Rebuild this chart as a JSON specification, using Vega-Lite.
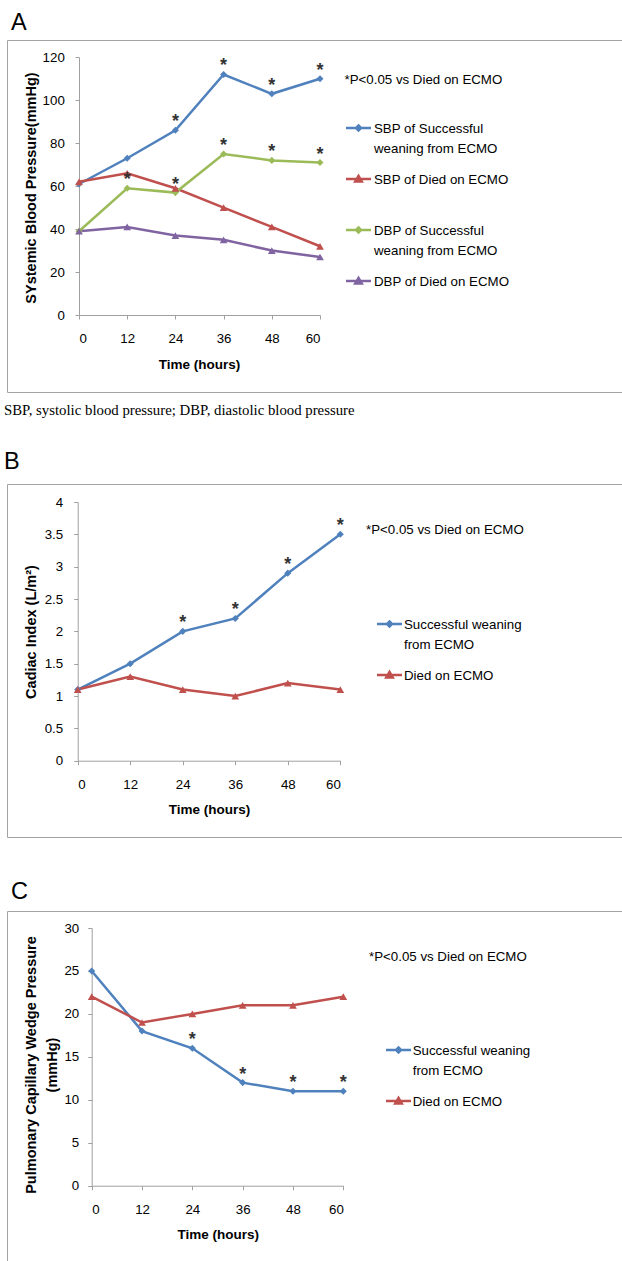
{
  "$schema": "https://vega.github.io/schema/vega-lite/v6.json",
  "background": "white",
  "padding": {"left": 3, "top": 10, "right": 0, "bottom": 0},
  "spacing": 9,
  "bounds": "full",
  "config": {
    "view": {"stroke": "#a3a3a3", "strokeWidth": 1},
    "font": "Liberation Sans",
    "axis": {
      "grid": false,
      "domainColor": "#a0a0a0",
      "tickColor": "#a0a0a0",
      "tickSize": 4,
      "labelFont": "Liberation Sans",
      "labelFontSize": 13.3,
      "labelColor": "#000",
      "titleFont": "Liberation Sans",
      "titleFontWeight": "bold",
      "titleColor": "#000"
    },
    "legend": {
      "orient": "none",
      "padding": 0,
      "titleFont": "Liberation Sans",
      "titleFontSize": 13.3,
      "titleFontWeight": "normal",
      "titleColor": "#000",
      "labelFont": "Liberation Sans",
      "labelFontSize": 13.3,
      "labelColor": "#000",
      "labelBaseline": "alphabetic",
      "labelLimit": 400,
      "symbolSize": 625,
      "symbolStrokeWidth": 2.5,
      "rowPadding": 9
    },
    "title": {"anchor": "start", "font": "Liberation Sans", "fontWeight": "normal", "color": "#000"}
  },
  "datasets": {
    "A": [
      {"t": 0, "series": "SBP of Successful weaning from ECMO", "value": 61, "sig": false},
      {"t": 12, "series": "SBP of Successful weaning from ECMO", "value": 73, "sig": false},
      {"t": 24, "series": "SBP of Successful weaning from ECMO", "value": 86, "sig": true},
      {"t": 36, "series": "SBP of Successful weaning from ECMO", "value": 112, "sig": true},
      {"t": 48, "series": "SBP of Successful weaning from ECMO", "value": 103, "sig": true},
      {"t": 60, "series": "SBP of Successful weaning from ECMO", "value": 110, "sig": true},
      {"t": 0, "series": "SBP of Died on ECMO", "value": 62, "sig": false},
      {"t": 12, "series": "SBP of Died on ECMO", "value": 66, "sig": false},
      {"t": 24, "series": "SBP of Died on ECMO", "value": 59, "sig": false},
      {"t": 36, "series": "SBP of Died on ECMO", "value": 50, "sig": false},
      {"t": 48, "series": "SBP of Died on ECMO", "value": 41, "sig": false},
      {"t": 60, "series": "SBP of Died on ECMO", "value": 32, "sig": false},
      {"t": 0, "series": "DBP of Successful weaning from ECMO", "value": 39, "sig": false},
      {"t": 12, "series": "DBP of Successful weaning from ECMO", "value": 59, "sig": true},
      {"t": 24, "series": "DBP of Successful weaning from ECMO", "value": 57, "sig": true},
      {"t": 36, "series": "DBP of Successful weaning from ECMO", "value": 75, "sig": true},
      {"t": 48, "series": "DBP of Successful weaning from ECMO", "value": 72, "sig": true},
      {"t": 60, "series": "DBP of Successful weaning from ECMO", "value": 71, "sig": true},
      {"t": 0, "series": "DBP of Died on ECMO", "value": 39, "sig": false},
      {"t": 12, "series": "DBP of Died on ECMO", "value": 41, "sig": false},
      {"t": 24, "series": "DBP of Died on ECMO", "value": 37, "sig": false},
      {"t": 36, "series": "DBP of Died on ECMO", "value": 35, "sig": false},
      {"t": 48, "series": "DBP of Died on ECMO", "value": 30, "sig": false},
      {"t": 60, "series": "DBP of Died on ECMO", "value": 27, "sig": false}
    ],
    "B": [
      {"t": 0, "series": "Successful weaning from ECMO", "value": 1.1, "sig": false},
      {"t": 12, "series": "Successful weaning from ECMO", "value": 1.5, "sig": false},
      {"t": 24, "series": "Successful weaning from ECMO", "value": 2.0, "sig": true},
      {"t": 36, "series": "Successful weaning from ECMO", "value": 2.2, "sig": true},
      {"t": 48, "series": "Successful weaning from ECMO", "value": 2.9, "sig": true},
      {"t": 60, "series": "Successful weaning from ECMO", "value": 3.5, "sig": true},
      {"t": 0, "series": "Died on ECMO", "value": 1.1, "sig": false},
      {"t": 12, "series": "Died on ECMO", "value": 1.3, "sig": false},
      {"t": 24, "series": "Died on ECMO", "value": 1.1, "sig": false},
      {"t": 36, "series": "Died on ECMO", "value": 1.0, "sig": false},
      {"t": 48, "series": "Died on ECMO", "value": 1.2, "sig": false},
      {"t": 60, "series": "Died on ECMO", "value": 1.1, "sig": false}
    ],
    "C": [
      {"t": 0, "series": "Successful weaning from ECMO", "value": 25, "sig": false},
      {"t": 12, "series": "Successful weaning from ECMO", "value": 18, "sig": false},
      {"t": 24, "series": "Successful weaning from ECMO", "value": 16, "sig": true},
      {"t": 36, "series": "Successful weaning from ECMO", "value": 12, "sig": true},
      {"t": 48, "series": "Successful weaning from ECMO", "value": 11, "sig": true},
      {"t": 60, "series": "Successful weaning from ECMO", "value": 11, "sig": true},
      {"t": 0, "series": "Died on ECMO", "value": 22, "sig": false},
      {"t": 12, "series": "Died on ECMO", "value": 19, "sig": false},
      {"t": 24, "series": "Died on ECMO", "value": 20, "sig": false},
      {"t": 36, "series": "Died on ECMO", "value": 21, "sig": false},
      {"t": 48, "series": "Died on ECMO", "value": 21, "sig": false},
      {"t": 60, "series": "Died on ECMO", "value": 22, "sig": false}
    ]
  },
  "resolve": {"scale": {"x": "independent", "y": "independent", "color": "independent"}, "legend": {"color": "independent"}},
  "vconcat": [
    {
      "width": 617,
      "height": 352,
      "title": {"text": "A", "fontSize": 23.5, "dx": 4, "offset": 6},
      "data": {"name": "A"},
      "encoding": {
        "x": {"field": "t", "type": "quantitative",
          "scale": {"domain": [0, 60], "range": [72, 313], "nice": false, "zero": false},
          "axis": {"values": [0, 12, 24, 36, 48, 60], "offset": -77, "labelPadding": 12.7,
            "title": "Time (hours)", "titleFontSize": 13.5, "titleX": 192, "titleY": 49, "titleBaseline": "middle"}},
        "y": {"field": "value", "type": "quantitative",
          "scale": {"domain": [0, 120], "range": [275, 17.3], "nice": false, "zero": false},
          "axis": {"values": [0, 20, 40, 60, 80, 100, 120], "offset": -72, "labelPadding": 10.7,
            "title": "SYstemic Blood Pressure(mmHg)", "titleFontSize": 14.5, "titleX": -48, "titleY": 147.5, "titleBaseline": "middle"}},
        "color": {"field": "series", "type": "nominal",
          "scale": {"domain": ["SBP of Successful weaning from ECMO", "SBP of Died on ECMO", "DBP of Successful weaning from ECMO", "DBP of Died on ECMO"],
            "range": ["#4F81BD", "#C0504D", "#9BBB59", "#8064A2"]},
          "legend": {
            "legendX": 337.5, "legendY": 33.4,
            "title": "*P<0.05 vs Died on ECMO", "titlePadding": 27.3, "labelOffset": 1.5,
            "labelExpr": "datum.label == 'SBP of Successful weaning from ECMO' ? ['SBP of Successful', 'weaning from ECMO'] : datum.label == 'DBP of Successful weaning from ECMO' ? ['DBP of Successful', 'weaning from ECMO'] : [datum.label, '']",
            "encode": {
              "symbols": {"update": {
                "shape": {"signal": "indexof(datum.value, 'Died') >= 0 ? 'M-1,0L1,0M0,-0.24L0.26,0.2L-0.26,0.2Z' : 'M-1,0L1,0M0,-0.2L0.2,0L0,0.2L-0.2,0Z'"},
                "fill": {"signal": "datum.value == 'SBP of Died on ECMO' ? '#C0504D' : datum.value == 'DBP of Successful weaning from ECMO' ? '#9BBB59' : datum.value == 'DBP of Died on ECMO' ? '#8064A2' : '#4F81BD'"},
                "stroke": {"signal": "datum.value == 'SBP of Died on ECMO' ? '#C0504D' : datum.value == 'DBP of Successful weaning from ECMO' ? '#9BBB59' : datum.value == 'DBP of Died on ECMO' ? '#8064A2' : '#4F81BD'"},
                "strokeWidth": {"value": 2.5}
              }},
              "labels": {"update": {"dy": {"value": 4.5}, "lineHeight": {"value": 20.7}}}
            }
          }}
      },
      "layer": [
        {"mark": {"type": "line", "strokeWidth": 2.5}},
        {"transform": [{"filter": "indexof(datum.series, 'Died') < 0"}],
          "mark": {"type": "point", "filled": true, "opacity": 1, "size": 50, "shape": "diamond"}},
        {"transform": [{"filter": "indexof(datum.series, 'Died') >= 0"}],
          "mark": {"type": "point", "filled": true, "opacity": 1, "size": 60, "shape": "triangle-up"}},
        {"transform": [{"filter": "datum.sig"}],
          "mark": {"type": "text", "text": "*", "fontSize": 18, "fontWeight": "bold", "baseline": "alphabetic", "dy": -3},
          "encoding": {"color": {"value": "#333333"}}}
      ]
    },
    {
      "width": 617,
      "height": 353,
      "title": {"text": "SBP, systolic blood pressure; DBP, diastolic blood pressure", "font": "Liberation Serif", "fontSize": 14.8, "dx": -3,
        "subtitle": "\u00a0B", "subtitleFont": "Liberation Sans", "subtitleFontSize": 23.5, "subtitleColor": "#000", "subtitlePadding": 32, "offset": 11},
      "data": {"name": "B"},
      "encoding": {
        "x": {"field": "t", "type": "quantitative",
          "scale": {"domain": [0, 60], "range": [70.7, 333.3], "nice": false, "zero": false},
          "axis": {"values": [0, 12, 24, 36, 48, 60], "offset": -76.3, "labelPadding": 12.7,
            "title": "Time (hours)", "titleFontSize": 13.5, "titleX": 202, "titleY": 48.3, "titleBaseline": "middle"}},
        "y": {"field": "value", "type": "quantitative",
          "scale": {"domain": [0, 4], "range": [276.7, 18], "nice": false, "zero": false},
          "axis": {"values": [0, 0.5, 1, 1.5, 2, 2.5, 3, 3.5, 4], "format": "~g", "offset": -70.7, "labelPadding": 11,
            "title": "Cadiac  Index (L/m²)", "titleFontSize": 14.5, "titleX": -45.7, "titleY": 147.5, "titleBaseline": "middle"}},
        "color": {"field": "series", "type": "nominal",
          "scale": {"domain": ["Successful weaning from ECMO", "Died on ECMO"], "range": ["#4F81BD", "#C0504D"]},
          "legend": {
            "legendX": 359.5, "legendY": 39,
            "title": "*P<0.05 vs Died on ECMO", "titlePadding": 73.7, "labelOffset": 0.5,
            "labelExpr": "datum.label == 'Successful weaning from ECMO' ? ['\u00a0Successful weaning', 'from ECMO'] : [datum.label, '']",
            "encode": {
              "title": {"update": {"dx": {"value": -9.5}}},
              "symbols": {"update": {
                "shape": {"signal": "indexof(datum.value, 'Died') >= 0 ? 'M-1,0L1,0M0,-0.24L0.26,0.2L-0.26,0.2Z' : 'M-1,0L1,0M0,-0.2L0.2,0L0,0.2L-0.2,0Z'"},
                "fill": {"signal": "indexof(datum.value, 'Died') >= 0 ? '#C0504D' : '#4F81BD'"},
                "stroke": {"signal": "indexof(datum.value, 'Died') >= 0 ? '#C0504D' : '#4F81BD'"},
                "strokeWidth": {"value": 2.5}
              }},
              "labels": {"update": {"dy": {"value": 4.5}, "lineHeight": {"value": 20.7}}}
            }
          }}
      },
      "layer": [
        {"mark": {"type": "line", "strokeWidth": 2.5}},
        {"transform": [{"filter": "indexof(datum.series, 'Died') < 0"}],
          "mark": {"type": "point", "filled": true, "opacity": 1, "size": 50, "shape": "diamond"}},
        {"transform": [{"filter": "indexof(datum.series, 'Died') >= 0"}],
          "mark": {"type": "point", "filled": true, "opacity": 1, "size": 60, "shape": "triangle-up"}},
        {"transform": [{"filter": "datum.sig"}],
          "mark": {"type": "text", "text": "*", "fontSize": 18, "fontWeight": "bold", "baseline": "alphabetic", "dy": -3},
          "encoding": {"color": {"value": "#333333"}}}
      ]
    },
    {
      "width": 617,
      "height": 352,
      "title": {"text": ["", "C"], "fontSize": 23.5, "lineHeight": 32, "dx": 4, "offset": 8},
      "data": {"name": "C"},
      "encoding": {
        "x": {"field": "t", "type": "quantitative",
          "scale": {"domain": [0, 60], "range": [84.7, 336.3], "nice": false, "zero": false},
          "axis": {"values": [0, 12, 24, 36, 48, 60], "offset": -77.3, "labelPadding": 12.7,
            "title": "Time (hours)", "titleFontSize": 13.5, "titleX": 210.7, "titleY": 49, "titleBaseline": "middle"}},
        "y": {"field": "value", "type": "quantitative",
          "scale": {"domain": [0, 30], "range": [274.7, 17], "nice": false, "zero": false},
          "axis": {"values": [0, 5, 10, 15, 20, 25, 30], "offset": -84.7, "labelPadding": 9,
            "title": ["Pulmonary Capillary Wedge Pressure", "(mmHg)"], "titleLineHeight": 21, "titleFontSize": 14.5, "titleX": -59.7, "titleY": 153.5, "titleBaseline": "middle"}},
        "color": {"field": "series", "type": "nominal",
          "scale": {"domain": ["Successful weaning from ECMO", "Died on ECMO"], "range": ["#4F81BD", "#C0504D"]},
          "legend": {
            "legendX": 362.5, "legendY": 39.4,
            "title": "*P<0.05 vs Died on ECMO", "titlePadding": 72.3, "labelOffset": 0.2,
            "labelExpr": "datum.label == 'Successful weaning from ECMO' ? ['Successful weaning', 'from ECMO'] : [datum.label, '']",
            "encode": {
              "title": {"update": {"dx": {"value": -15.5}}},
              "symbols": {"update": {
                "shape": {"signal": "indexof(datum.value, 'Died') >= 0 ? 'M-1,0L1,0M0,-0.24L0.26,0.2L-0.26,0.2Z' : 'M-1,0L1,0M0,-0.2L0.2,0L0,0.2L-0.2,0Z'"},
                "fill": {"signal": "indexof(datum.value, 'Died') >= 0 ? '#C0504D' : '#4F81BD'"},
                "stroke": {"signal": "indexof(datum.value, 'Died') >= 0 ? '#C0504D' : '#4F81BD'"},
                "strokeWidth": {"value": 2.5}
              }},
              "labels": {"update": {"dy": {"value": 4.5}, "lineHeight": {"value": 20.7}}}
            }
          }}
      },
      "layer": [
        {"mark": {"type": "line", "strokeWidth": 2.5}},
        {"transform": [{"filter": "indexof(datum.series, 'Died') < 0"}],
          "mark": {"type": "point", "filled": true, "opacity": 1, "size": 50, "shape": "diamond"}},
        {"transform": [{"filter": "indexof(datum.series, 'Died') >= 0"}],
          "mark": {"type": "point", "filled": true, "opacity": 1, "size": 60, "shape": "triangle-up"}},
        {"transform": [{"filter": "datum.sig"}],
          "mark": {"type": "text", "text": "*", "fontSize": 18, "fontWeight": "bold", "baseline": "alphabetic", "dy": -3},
          "encoding": {"color": {"value": "#333333"}}}
      ]
    }
  ]
}
